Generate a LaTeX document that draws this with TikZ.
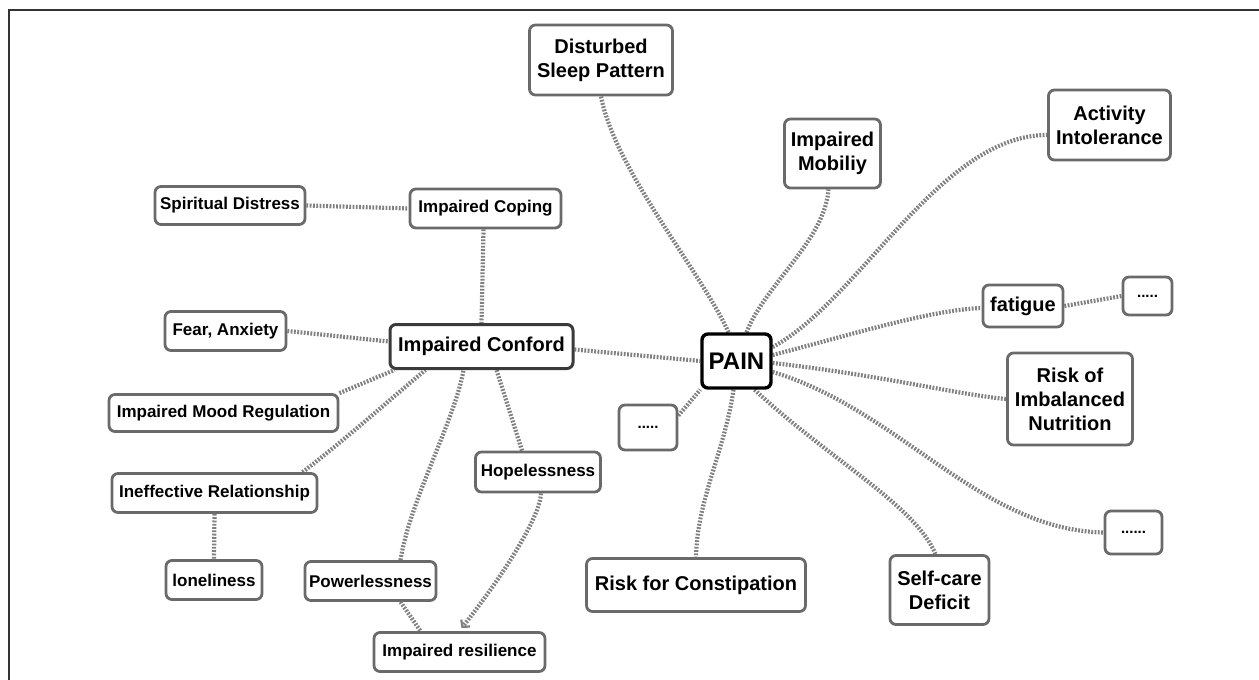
\documentclass[tikz,border=0pt]{standalone}
\usepackage{fontspec}
\setmainfont{Liberation Sans}
\usetikzlibrary{arrows.meta,backgrounds}
\definecolor{bordergray}{HTML}{6A6A6A}
\definecolor{confgray}{HTML}{3A3A3A}
\definecolor{linegray}{HTML}{808080}
\definecolor{framegray}{HTML}{333333}
\begin{document}
\begin{tikzpicture}[x=1pt,y=-1pt,
  bx/.style={draw=bordergray, line width=2.8pt, rounded corners=6pt, fill=white,
    align=center, inner sep=2pt, text=black,
    font=\bfseries\fontsize{17}{20}\selectfont},
  bxl/.style={bx, font=\bfseries\fontsize{20}{24}\selectfont},
  bxd/.style={bx, font=\bfseries\fontsize{15}{18}\selectfont},
  conn/.style={draw=linegray, line width=4.2pt, dash pattern=on 1.8pt off 1.5pt},
]
\useasboundingbox (0,0) rectangle (1259,680);
\draw[line width=2pt, framegray] (9,680) -- (9,10) -- (1259,10);

% nodes
\node[bxl, minimum width=143, minimum height=70] (dsp) at (601,60) {Disturbed\\Sleep Pattern};
\node[bxl, minimum width=96, minimum height=69] (mob) at (832.5,153.5) {Impaired\\Mobiliy};
\node[bxl, minimum width=122, minimum height=70] (act) at (1109.5,125) {Activity\\Intolerance};
\node[bxl, minimum width=80, minimum height=42] (fat) at (1023,306) {fatigue};
\node[bxd, minimum width=49, minimum height=38] (dotA) at (1147.5,296) {.....};
\node[bx, draw=black, line width=3.4pt, minimum width=69, minimum height=54,
  font=\bfseries\fontsize{24}{28}\selectfont] (pain) at (736.5,361) {PAIN};
\node[bxd, minimum width=58, minimum height=45] (dotB) at (648,427.5) {.....};
\node[bxl, minimum width=125, minimum height=92] (rin) at (1070,399) {Risk of\\Imbalanced\\Nutrition};
\node[bxd, minimum width=57, minimum height=43] (dotC) at (1133.5,532.5) {......};
\node[bxl, minimum width=99, minimum height=69] (sc) at (939.5,590) {Self-care\\Deficit};
\node[bxl, minimum width=219, minimum height=53] (rfc) at (696,585) {Risk for Constipation};
\node[bx, minimum width=125, minimum height=40] (hop) at (538,472) {Hopelessness};
\node[bx, minimum width=171, minimum height=39] (ires) at (459.5,652) {Impaired resilience};
\node[bx, minimum width=131, minimum height=39] (pw) at (370.5,581) {Powerlessness};
\node[bx, minimum width=96, minimum height=39] (lone) at (214,580) {loneliness};
\node[bx, minimum width=205, minimum height=39] (ir) at (214.5,493) {Ineffective Relationship};
\node[bx, minimum width=229, minimum height=37] (mood) at (223.5,413) {Impaired Mood Regulation};
\node[bx, minimum width=121, minimum height=39] (fear) at (225.5,331) {Fear, Anxiety};
\node[bxl, draw=confgray, line width=3pt, minimum width=183, minimum height=44] (conf) at (481.5,346.5) {Impaired Conford};
\node[bx, minimum width=151, minimum height=39] (cop) at (485.5,208.5) {Impaired Coping};
\node[bx, minimum width=150, minimum height=38] (sd) at (230,205.5) {Spiritual Distress};

% connectors
\begin{pgfonlayer}{background}
\draw[conn] (sd.east) -- (cop.west);
\draw[conn] ([xshift=-2pt]cop.south) -- (conf.north);
\draw[conn] (fear.east) -- ([yshift=5pt]conf.west);
\draw[conn] (mood.north east) -- ([xshift=6pt]conf.south west);
\draw[conn] ([xshift=88pt]ir.north) .. controls (345,440) and (395,395) .. ([xshift=-56pt]conf.south);
\draw[conn] (ir.south) -- (lone.north);
\draw[conn] ([xshift=30pt]pw.north) .. controls (410,500) and (455,420) .. ([xshift=-18pt]conf.south);
\draw[conn] ([xshift=-16pt]hop.north) -- ([xshift=15pt]conf.south);
\draw[conn] ([xshift=30pt]pw.south) -- ([xshift=-39pt]ires.north);
\draw[conn, -{Straight Barb[length=5pt,width=11pt,line width=2.2pt]}]
  ([xshift=3pt]hop.south) .. controls (540,518) and (500,580) .. ([xshift=2pt,yshift=3pt]ires.north);
\draw[conn] ([yshift=-3pt]conf.east) -- (pain.west);
\draw[conn] ([yshift=12pt]dotB.east) -- (pain.south west);
\draw[conn] ([xshift=-3pt]pain.south) .. controls (725,450) and (697,500) .. (rfc.north);
\draw[conn] ([xshift=18pt]pain.south) .. controls (830,460) and (915,505) .. ([xshift=-4pt]sc.north);
\draw[conn] ([yshift=-11pt]pain.east) .. controls (900,410) and (980,530) .. (dotC.west);
\draw[conn] ([yshift=-2pt]pain.east) .. controls (880,375) and (960,395) .. (rin.west);
\draw[conn] ([yshift=6pt]pain.east) .. controls (850,335) and (930,310) .. ([yshift=-2pt]fat.west);
\draw[conn] (fat.east) -- (dotA.west);
\draw[conn] ([yshift=14pt]pain.east) .. controls (860,300) and (940,135) .. ([yshift=-10pt]act.west);
\draw[conn] ([xshift=10pt]pain.north) .. controls (765,285) and (825,240) .. ([xshift=-4pt]mob.south);
\draw[conn] ([xshift=-8pt]pain.north) .. controls (700,270) and (615,170) .. (dsp.south);
\end{pgfonlayer}
\end{tikzpicture}
\end{document}
